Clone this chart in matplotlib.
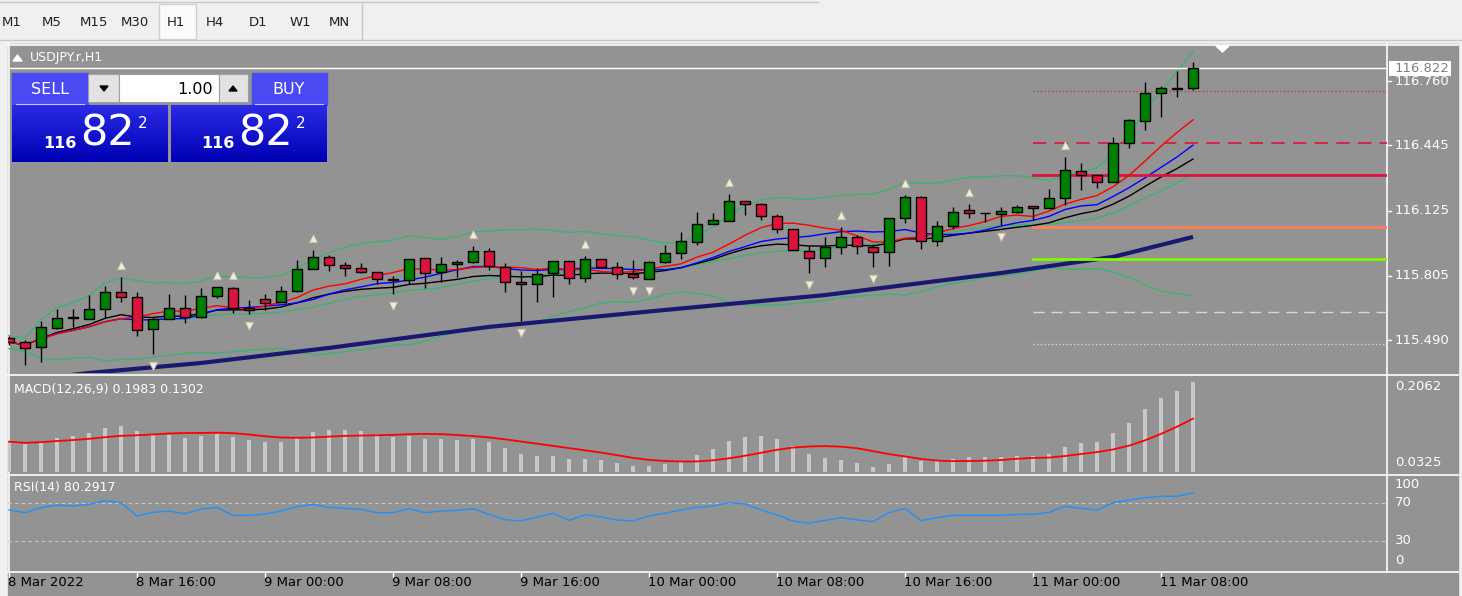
import numpy as np
import pandas as pd
import matplotlib
matplotlib.use("Agg")
import matplotlib.pyplot as plt
from matplotlib.patches import Rectangle, Polygon

plt.rcParams['font.family'] = ['DejaVu Sans']

# ---------------- data (USDJPY.r H1, 8 Mar 08:00 .. 11 Mar 10:00) ----------------
opens = [115.501,115.481,115.457,115.550,115.599,115.594,115.643,115.726,115.702,115.545,
         115.594,115.648,115.604,115.707,115.746,115.648,115.692,115.677,115.731,115.839,
         115.898,115.859,115.844,115.824,115.790,115.785,115.893,115.824,115.863,115.873,
         115.927,115.849,115.775,115.765,115.819,115.878,115.795,115.888,115.849,115.814,
         115.790,115.873,115.917,115.971,116.059,116.074,116.172,116.157,116.099,116.035,
         115.927,115.893,115.947,115.996,115.947,115.922,116.089,116.192,115.976,116.050,
         116.128,116.113,116.108,116.118,116.147,116.138,116.187,116.319,116.300,116.265,
         116.456,116.564,116.701,116.726,116.726]
highs = [115.511,115.491,115.584,115.643,115.643,115.712,115.756,115.800,115.726,115.604,
         115.716,115.712,115.746,115.751,115.751,115.687,115.716,115.756,115.883,115.932,
         115.908,115.873,115.868,115.824,115.805,115.888,115.893,115.898,115.883,115.952,
         115.942,115.868,115.829,115.844,115.878,115.878,115.903,115.888,115.873,115.883,
         115.878,115.957,116.020,116.118,116.113,116.206,116.172,116.162,116.108,116.035,
         115.952,115.996,116.045,116.006,115.961,116.089,116.202,116.197,116.074,116.143,
         116.157,116.113,116.143,116.152,116.147,116.231,116.388,116.358,116.300,116.486,
         116.574,116.755,116.736,116.809,116.853]
lows = [115.466,115.369,115.383,115.545,115.555,115.594,115.599,115.677,115.511,115.422,
        115.594,115.574,115.599,115.697,115.623,115.618,115.638,115.677,115.726,115.839,
        115.829,115.805,115.819,115.765,115.716,115.765,115.746,115.775,115.800,115.868,
        115.834,115.726,115.584,115.677,115.702,115.765,115.775,115.849,115.790,115.790,
        115.790,115.868,115.888,115.956,116.059,116.074,116.103,116.079,116.015,115.932,
        115.819,115.849,115.912,115.912,115.849,115.854,116.064,115.937,115.952,116.035,
        116.089,116.069,116.054,116.113,116.079,116.138,116.152,116.226,116.236,116.265,
        116.432,116.520,116.584,116.682,116.716]
closes = [115.481,115.452,115.555,115.599,115.604,115.643,115.726,115.702,115.540,115.594,
          115.648,115.604,115.707,115.751,115.648,115.638,115.672,115.731,115.839,115.898,
          115.859,115.844,115.824,115.790,115.785,115.888,115.819,115.863,115.873,115.927,
          115.854,115.775,115.765,115.814,115.878,115.795,115.888,115.849,115.814,115.800,
          115.873,115.917,115.976,116.059,116.079,116.172,116.157,116.099,116.035,115.932,
          115.893,115.947,115.996,115.952,115.922,116.089,116.192,115.976,116.050,116.118,
          116.113,116.111,116.123,116.143,116.138,116.187,116.324,116.300,116.265,116.456,
          116.569,116.701,116.726,116.723,116.822]

# slow (long-period) moving average read at a few bars
slow_ma_bars = [4, 5, 12, 20, 30, 41, 51, 62, 69, 74]
slow_ma_vals = [115.320, 115.329, 115.378, 115.452, 115.555, 115.638, 115.711, 115.819, 115.898, 115.996]

macd_main = [0.0895,0.0852,0.0913,0.0968,0.0998,0.1059,0.1150,0.1181,0.1090,0.1035,
             0.1017,0.0968,0.0998,0.1035,0.0986,0.0925,0.0889,0.0889,0.0986,0.1071,
             0.1114,0.1114,0.1090,0.1035,0.0986,0.0998,0.0944,0.0944,0.0925,0.0944,
             0.0889,0.0780,0.0670,0.0634,0.0634,0.0579,0.0579,0.0561,0.0512,0.0451,
             0.0451,0.0488,0.0542,0.0652,0.0761,0.0907,0.0980,0.0998,0.0944,0.0816,
             0.0670,0.0597,0.0561,0.0506,0.0433,0.0488,0.0615,0.0542,0.0542,0.0579,
             0.0615,0.0615,0.0615,0.0634,0.0634,0.0670,0.0798,0.0871,0.0889,0.1053,
             0.1235,0.1491,0.1691,0.1819,0.1983]
macd_label = "MACD(12,26,9) 0.1983 0.1302"

rsi_vals = [62.3,59.5,64.7,67.5,66.5,68.2,72.1,70.0,56.0,59.8,
            61.2,58.4,63.3,65.1,56.7,56.7,58.1,61.2,65.8,68.2,
            65.1,64.0,63.0,59.5,59.5,63.7,59.5,61.2,61.9,63.7,
            57.7,52.1,50.7,54.9,58.8,51.4,57.4,54.9,51.8,50.7,
            56.0,58.8,62.3,65.1,66.5,70.0,68.6,62.3,57.0,50.7,
            48.6,51.4,54.2,51.8,50.0,59.5,64.0,51.1,54.2,56.7,
            56.7,56.7,56.7,57.7,57.7,59.8,66.1,64.0,62.3,70.0,
            72.8,75.3,76.7,76.7,80.29]
rsi_label = "RSI(14) 80.2917"

time_labels = ["8 Mar 2022", "8 Mar 16:00", "9 Mar 00:00", "9 Mar 08:00", "9 Mar 16:00",
               "10 Mar 00:00", "10 Mar 08:00", "10 Mar 16:00", "11 Mar 00:00", "11 Mar 08:00"]
price_ticks = [116.760, 116.445, 116.125, 115.805, 115.490]
bid_price = 116.822
level_lines = [  # price, colour, style, width
    (116.711, '#c04040', ':', 1.0),
    (116.456, '#dc143c', (0, (8, 5)), 1.2),
    (116.300, '#dc143c', '-', 2.0),
    (116.044, '#ff7f50', '-', 2.0),
    (115.887, '#7cfc00', '-', 2.0),
    (115.627, '#d8d8d8', (0, (8, 5)), 1.0),
    (115.470, '#d8d8d8', ':', 1.0),
]
level_start_bar = 64

# ---------------- indicators ----------------
c = pd.Series(closes)
ma_red = c.rolling(8, min_periods=1).mean()
ma_blue = c.rolling(12, min_periods=1).mean()
ma_black = c.ewm(span=20, adjust=True).mean()
bb_mid = c.rolling(20, min_periods=1).mean()
bb_sd = c.rolling(26, min_periods=2).std(ddof=0).bfill()
bb_up = bb_mid + 2.2 * bb_sd
bb_lo = bb_mid - 2.2 * bb_sd
macd_sig = pd.Series(macd_main).rolling(9, min_periods=1).mean()

n = len(closes)
idx = np.arange(n)
up_fr = [i for i in range(2, n - 2) if highs[i] == max(highs[i-2:i+3])]
dn_fr = [i for i in range(2, n - 2) if lows[i] == min(lows[i-2:i+3])]

# ---------------- figure ----------------
W, H = 1462, 596
fig = plt.figure(figsize=(W / 100, H / 100), dpi=100)
BG = '#939393'
bg = fig.add_axes([0, 0, 1, 1])
bg.set_xlim(0, W); bg.set_ylim(H, 0); bg.axis('off')
bg.add_patch(Rectangle((0, 0), W, H, color='#f0f0f0', zorder=0))
bg.add_patch(Rectangle((8, 44), 1450, 552, color=BG, zorder=0))
bg.plot([0, 818], [2, 2], color='#c8c8c8', lw=1)
bg.plot([0, 1462], [40, 40], color='#c8c8c8', lw=1)
bg.plot([362, 362], [3, 39], color='#c8c8c8', lw=1)
bg.add_patch(Rectangle((159, 4), 37, 35, facecolor='#fbfbfb', edgecolor='#d0d0d0', lw=1))
for lab, x in zip(["M1", "M5", "M15", "M30", "H1", "H4", "D1", "W1", "MN"],
                  [12, 52, 94, 135, 176, 215, 258, 300, 339]):
    bg.text(x, 22, lab, ha='center', va='center', fontsize=9.5, color='#202020')
for y in (45, 374.5, 474.5, 571.5):
    bg.plot([8, 1458], [y, y], color='white', lw=1.2)
bg.plot([8.5, 8.5], [44, 572], color='white', lw=1.2)
bg.plot([1387, 1387], [44, 572], color='white', lw=1.2)

def frac(px0, py0, px1, py1):
    return [px0 / W, 1 - py1 / H, (px1 - px0) / W, (py1 - py0) / H]

x_left = (8 - 9) / 16
x_right = (1387 - 9) / 16

def setup(ax):
    ax.set_facecolor('none')
    ax.set_xlim(x_left, x_right)
    for s in ax.spines.values():
        s.set_visible(False)
    ax.set_xticks([]); ax.set_yticks([])

# ---- main ----
ax = fig.add_axes(frac(8, 46, 1387, 373))
setup(ax)
ax.set_ylim(115.329, 116.932)
ax.plot(idx, bb_up, color='#3cb371', lw=1)
ax.plot(idx, bb_lo, color='#3cb371', lw=1)
ax.plot(idx, bb_mid, color='#3cb371', lw=1)
ax.plot(idx, ma_black, color='black', lw=1)
ax.plot(idx, ma_blue, color='#0000ff', lw=1)
ax.plot(idx, ma_red, color='#ff0000', lw=1)
ax.plot(slow_ma_bars, slow_ma_vals, color='#191970', lw=3, solid_capstyle='butt')
for p, col, ls, lw in level_lines:
    ax.plot([level_start_bar, x_right], [p, p], color=col, ls=ls, lw=lw)
ax.axhline(bid_price, color='white', lw=1)
o = np.array(opens); cl = np.array(closes)
ax.vlines(idx, lows, highs, color='black', lw=1, zorder=3)
body_lo = np.minimum(o, cl)
body_h = np.maximum(np.abs(cl - o), 0.003)
cols = ['#008000' if cc >= oo else '#dc143c' for oo, cc in zip(o, cl)]
ax.bar(idx, body_h, bottom=body_lo, width=0.62, color=cols, edgecolor='black', lw=1, zorder=4)
ax.scatter(up_fr, [highs[i] + 0.06 for i in up_fr], marker='^', s=40,
           facecolor='#f0ecd8', edgecolor='#b0a890', lw=0.6, zorder=5)
ax.scatter(dn_fr, [lows[i] - 0.06 for i in dn_fr], marker='v', s=40,
           facecolor='#f0ecd8', edgecolor='#b0a890', lw=0.6, zorder=5)

# ---- MACD ----
axm = fig.add_axes(frac(8, 377, 1387, 472))
setup(axm)
axm.set_ylim(0.0342, 0.2075)
axm.bar(idx, macd_main, width=0.2, color='#c8c8c8', bottom=0)
axm.plot(idx, macd_sig, color='#ff0000', lw=1.3)

# ---- RSI ----
axr = fig.add_axes(frac(8, 476, 1387, 570))
setup(axr)
axr.set_ylim(-0.9, 98.1)
axr.axhline(70, color='#c8c8c8', ls=(0, (3, 3)), lw=0.8)
axr.axhline(30, color='#c8c8c8', ls=(0, (3, 3)), lw=0.8)
axr.plot(idx, rsi_vals, color='#1e90ff', lw=1)

# ---- texts / chrome ----
bg.add_patch(Polygon([[13, 61], [22, 61], [17.5, 55]], color='white'))
bg.text(30, 57, "USDJPY.r,H1", fontsize=9, color='white', va='center')
bg.add_patch(Polygon([[1216, 46], [1229, 46], [1222.5, 52]], color='white'))
bg.text(14, 389, macd_label, fontsize=9, color='white', va='center')
bg.text(14, 487, rsi_label, fontsize=9, color='white', va='center')

ymain0, ymain1 = 46, 373
def py(p):
    return ymain0 + (116.932 - p) / (116.932 - 115.329) * (ymain1 - ymain0)
for p in price_ticks:
    y = py(p)
    bg.plot([1387, 1391], [y, y], color='white', lw=1)
    bg.text(1395, y, "%.3f" % p, fontsize=9.5, color='white', va='center')
yb = py(bid_price)
bg.add_patch(Rectangle((1389, yb - 7.5), 62, 15, facecolor='white', edgecolor='none', zorder=3))
bg.text(1395, yb, "%.3f" % bid_price, fontsize=9.5, color='#808080', va='center', zorder=4)
for lab, y in [("0.2062", 387), ("0.0325", 463)]:
    bg.text(1395, y, lab, fontsize=9.5, color='white', va='center')
for lab, y in [("100", 484), ("70", 503), ("30", 541), ("0", 560)]:
    bg.text(1395, y, lab, fontsize=9.5, color='white', va='center')

for k, lab in enumerate(time_labels):
    x = 8 + 16 * 8 * k
    bg.plot([x + 1, x + 1], [572, 577], color='white', lw=1)
    bg.text(x, 582, lab, fontsize=9.5, color='black', va='center', ha='left')

# one-click trading panel
bg.add_patch(Rectangle((12, 73), 76, 32, color='#4a4af2'))
bg.add_patch(Rectangle((252, 73), 75, 32, color='#4a4af2'))
for x0, x1 in ((12, 168), (171, 327)):
    nstep = 20
    for s in range(nstep):
        t = s / (nstep - 1)
        col = (0.16 * (1 - t), 0.16 * (1 - t), 0.90 - 0.2 * t)
        bg.add_patch(Rectangle((x0, 105 + s * 57 / nstep), x1 - x0, 57 / nstep + 0.5, color=col, lw=0))
bg.plot([16, 84], [104, 104], color='#c8c8ff', lw=0.8)
bg.plot([255, 323], [104, 104], color='#c8c8ff', lw=0.8)
bg.add_patch(Rectangle((88, 74), 31, 28, facecolor='#e2e2e2', edgecolor='#a0a0a0', lw=0.8))
bg.add_patch(Rectangle((119, 74), 100, 28, facecolor='white', edgecolor='#a0a0a0', lw=0.8))
bg.add_patch(Rectangle((219, 74), 29, 28, facecolor='#e2e2e2', edgecolor='#a0a0a0', lw=0.8))
bg.add_patch(Polygon([[100, 86], [108, 86], [104, 91]], color='black'))
bg.add_patch(Polygon([[229, 91], [237, 91], [233, 86]], color='black'))
bg.text(213, 89, "1.00", fontsize=11.5, color='black', ha='right', va='center')
bg.text(50, 89, "SELL", fontsize=11.5, color='white', ha='center', va='center')
bg.text(289, 89, "BUY", fontsize=11.5, color='white', ha='center', va='center')
for xo in (0, 158):
    bg.text(77 + xo, 143, "116", fontsize=11.5, color='white', fontweight='bold', ha='right', va='center')
    bg.text(80 + xo, 134, "82", fontsize=31, color='white', ha='left', va='center')
    bg.text(138 + xo, 123, "2", fontsize=11, color='white', ha='left', va='center')

fig.savefig("out.png", dpi=100)
